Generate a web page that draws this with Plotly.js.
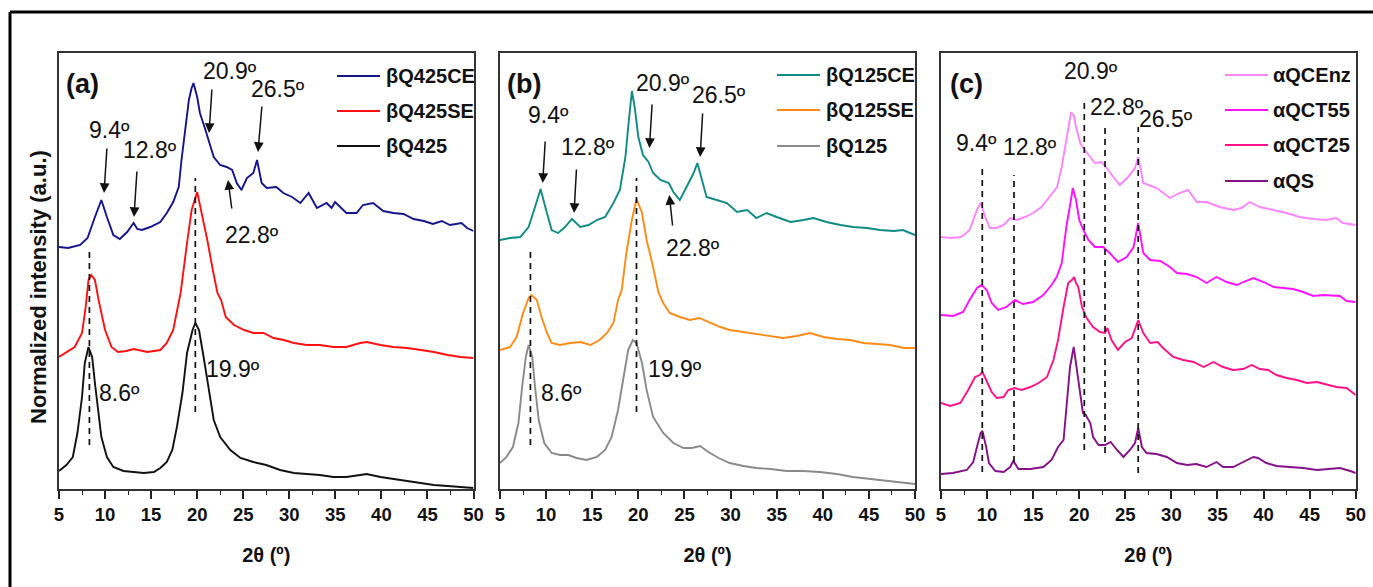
<!DOCTYPE html>
<html>
<head>
<meta charset="utf-8">
<script src="https://cdn.plot.ly/plotly-3.0.1.min.js"></script>
<style>
html,body{margin:0;padding:0;background:#fff;}
#chart{width:1373px;height:587px;}
</style>
</head>
<body>
<div id="chart"></div>
<script>
// ---------------- DATA (2θ in degrees, normalized intensity in a.u., stacked offsets) ----------------
// Panel (a)
const names_a  = ['βQ425CE', 'βQ425SE', 'βQ425'];
const colors_a = ['#14148c', '#ff1010', '#111111'];
const tt_Q425CE = [5.0,6.0,7.3,8.1,8.9,9.6,10.2,10.9,11.6,12.4,13.1,13.5,14.0,14.9,16.0,16.7,17.4,18.0,18.3,18.7,19.1,19.4,19.6,20.0,20.3,20.9,21.3,21.8,22.5,23.2,23.8,24.3,24.8,25.4,26.1,26.5,27.0,27.55,28.6,29.35,30.3,31.2,32.1,33.0,34.05,34.6,34.97,36.2,37.3,38.0,39.1,40.2,41.3,42.4,43.5,44.6,45.6,46.55,47.45,48.7,49.3,50.0];
const in_Q425CE = [242,241,244,251,272,289,272,254,250,257,266,260,259,262,267,276,287,302,329,362,389,401,406,392,376,359,346,332,324,322,319,306,299,311,316,329,306,301,302,296,292,286,296,281,286,281,287,276,276,284,286,278,276,275,270,268,265,268,264,266,261,258];
const tt_Q425SE = [5.0,5.8,6.7,7.5,7.9,8.2,8.5,8.9,9.3,10.0,10.7,11.4,12.3,13.1,14.6,16.0,16.7,17.4,17.8,18.2,18.9,19.4,20.0,20.5,21.1,21.7,22.2,22.6,23.1,24.0,25.1,26.1,27.2,28.3,29.4,30.5,31.9,33.3,34.8,36.2,37.7,38.4,39.9,41.3,42.8,44.3,45.7,47.2,48.6,50.0];
const in_Q425SE = [132,137,142,156,182,209,214,209,189,159,142,137,138,140,137,139,146,159,176,196,246,279,297,276,249,219,196,189,172,164,159,156,156,151,149,146,144,144,142,142,146,147,144,142,141,139,137,134,132,131];
const tt_Q425 = [5.0,5.8,6.5,7.0,7.5,7.8,8.2,8.6,8.9,9.3,9.6,10.2,10.9,12.0,13.1,14.2,15.3,16.0,16.7,17.3,17.8,18.4,18.9,19.5,19.8,20.2,20.7,21.3,21.8,22.5,23.6,24.7,26.1,27.5,29.0,30.5,31.9,33.3,34.8,36.2,37.7,38.4,39.9,41.3,42.8,44.3,45.7,47.2,48.6,50.0];
const in_Q425 = [18,24,32,56,92,126,142,132,106,76,52,32,22,18,17,16,17,21,27,39,62,96,136,159,166,159,132,99,69,52,39,31,27,24,19,16,15,14,12,12,14,15,12,10,8,6,4,3,2,1];

// Panel (b)
const names_b  = ['βQ125CE', 'βQ125SE', 'βQ125'];
const colors_b = ['#108a84', '#ff8a14', '#8a8a8a'];
const tt_Q125CE = [5.0,6.1,7.2,8.1,8.8,9.4,10.0,10.6,11.3,12.05,12.8,13.7,14.6,15.5,16.4,17.3,18.0,18.6,18.9,19.3,19.6,20.0,20.5,21.1,21.6,22.4,23.3,23.8,24.5,25.25,26.0,26.4,26.9,27.4,28.5,29.6,30.7,31.8,32.8,33.9,35.0,36.5,37.9,39.0,40.4,41.9,43.3,44.8,46.2,47.7,48.7,50.0];
const in_Q125CE = [249,251,252,262,282,300,279,259,256,262,270,262,264,269,272,286,299,332,362,398,382,352,334,327,316,309,306,297,289,302,316,326,309,292,289,286,277,279,271,276,272,267,269,271,267,264,262,261,259,258,259,254];
const tt_Q125SE = [5.0,6.1,6.8,7.5,8.1,8.4,9.0,9.5,10.1,10.6,11.5,12.6,13.7,14.8,15.8,16.6,17.3,17.8,18.2,18.7,19.3,19.8,20.4,20.9,21.5,22.0,22.2,22.7,23.4,24.5,25.6,26.6,27.8,28.9,29.9,31.4,32.8,34.3,35.7,37.2,38.6,40.1,41.5,43.0,44.4,45.9,47.3,48.8,50.0];
const in_Q125SE = [139,142,152,176,191,194,189,172,156,146,144,146,147,144,149,156,166,189,199,236,269,290,276,249,226,202,196,186,176,172,169,171,166,162,159,157,155,153,151,153,156,152,150,149,146,145,144,141,141];
const tt_Q125 = [5.0,5.7,6.4,7.0,7.4,7.8,8.1,8.5,8.8,9.2,9.8,10.6,11.5,12.4,13.3,14.4,15.5,16.4,17.1,17.8,18.4,18.9,19.4,19.8,20.4,20.9,21.6,22.7,23.8,24.9,25.8,26.7,27.6,28.7,29.9,31.4,32.8,34.3,36.1,37.9,39.7,41.5,43.3,45.1,46.9,48.7,50.0];
const in_Q125 = [26,32,42,66,102,132,144,132,102,69,46,36,34,34,31,29,32,39,52,79,112,139,149,146,126,99,72,56,46,41,41,43,37,31,26,23,21,20,18,18,17,15,12,10,8,6,5];

// Panel (c)
const names_c  = ['αQCEnz', 'αQCT55', 'αQCT25', 'αQS'];
const colors_c = ['#ff84ff', '#ff10ff', '#ff1088', '#84108a'];
const tt_QCEnz = [5.0,6.0,7.2,8.1,8.9,9.3,9.8,10.3,11.0,11.8,12.5,13.2,14.1,15.0,15.9,16.8,17.6,18.1,18.6,19.1,19.4,19.65,20.1,20.6,21.2,21.7,22.4,23.0,23.7,24.4,25.3,26.05,26.4,26.95,28.4,29.85,30.9,31.8,32.75,33.8,35.25,36.7,37.6,38.5,39.6,41.1,42.5,43.9,45.4,46.8,47.9,48.6,50.0];
const in_QCEnz = [252,251,252,259,279,286,272,261,261,264,271,269,272,276,282,292,302,322,349,376,374,362,346,339,332,326,327,321,312,304,312,321,332,306,301,291,296,299,287,287,282,279,281,287,282,279,276,272,270,269,271,266,264];
const tt_QCT55 = [5.0,6.3,7.4,8.1,8.9,9.4,9.96,10.5,11.2,12.1,13.0,13.9,15.0,16.1,17.0,17.55,18.1,18.6,19.1,19.3,19.65,20.0,20.45,21.0,21.7,22.6,23.3,24.2,25.15,25.9,26.4,26.95,27.7,28.8,29.85,30.6,31.7,32.75,33.8,34.9,36.0,37.1,37.8,38.9,40.0,41.1,42.15,43.2,44.3,45.4,46.5,47.6,48.3,49.0,50.0];
const in_QCT55 = [174,173,177,189,201,204,199,186,179,182,189,185,187,194,204,212,226,262,289,301,289,269,259,249,242,242,236,227,232,242,266,236,229,228,222,216,215,212,206,212,207,204,207,211,207,202,201,200,197,193,194,193,193,188,187];
const tt_QCT25 = [5.0,6.0,7.1,7.95,8.7,9.2,9.5,9.96,10.5,11.05,11.8,12.3,13.0,13.75,14.7,15.6,16.5,17.2,17.7,18.3,18.8,19.2,19.45,19.65,19.9,20.3,20.8,21.5,22.25,22.8,23.05,23.5,24.2,24.97,25.7,26.4,26.95,27.7,28.5,29.1,30.2,31.3,32.4,33.5,34.55,35.6,36.7,37.8,38.7,39.6,40.5,41.4,42.5,43.6,44.7,45.8,46.9,47.9,49.0,50.0];
const in_QCT25 = [86,83,86,99,112,114,117,107,97,91,92,99,101,99,102,106,112,129,149,182,206,209,212,206,202,182,171,162,157,156,161,149,139,147,151,169,156,146,147,141,132,129,127,122,127,122,119,120,124,120,119,114,111,109,106,107,104,102,101,94];
const tt_QS = [5.0,6.3,7.8,8.5,8.9,9.3,9.5,9.9,10.2,10.9,11.8,12.5,12.85,13.4,14.7,16.1,17.0,17.7,18.3,18.6,19.0,19.4,19.65,20.0,20.4,20.7,21.2,21.5,22.1,22.8,23.4,24.1,24.8,25.5,26.05,26.4,26.8,27.3,28.4,29.5,30.6,31.7,32.7,33.8,34.9,35.6,36.7,37.8,38.9,39.4,40.3,41.4,42.9,44.3,45.8,47.2,48.3,49.4,50.0];
const in_QS = [15,16,19,27,42,56,58,42,26,18,17,22,28,20,20,22,29,42,49,82,122,142,126,99,76,74,66,52,44,44,47,39,32,39,46,61,42,36,35,32,26,24,25,22,27,22,22,27,32,31,26,23,22,21,19,20,21,18,16];

// Peak annotations (labels, positions in 2θ / a.u.)
const peakLabels_a = ['9.4º', '12.8º', '20.9º', '26.5º', '22.8º', '8.6º', '19.9º'];
const peakLabels_c = ['9.4º', '12.8º', '20.9º', '22.8º', '26.5º'];
const refLines_ab = [8.3, 19.8];
const refLines_c = [9.48, 12.92, 20.55, 22.8, 26.4];

// ---------------- LAYOUT HELPERS ----------------
const W = 1373, H = 587;
const PX = v => v / W;
const PY = v => 1 - v / H;
const FONT = 'Liberation Sans, Arial, Helvetica, sans-serif';
const YD = [PY(489), PY(53)];

function xax(d0, d1, anchor) {
  return {
    domain: [PX(d0), PX(d1)], anchor: anchor, range: [5, 50],
    tick0: 5, dtick: 5, ticks: 'outside', ticklen: 8, tickwidth: 1.5, tickcolor: '#222',
    showline: true, linecolor: '#333', linewidth: 1.6, mirror: true,
    showgrid: false, zeroline: false, fixedrange: true,
    tickfont: {family: FONT, size: 18.5, color: '#111', weight: 'bold'},
    minor: {dtick: 2.5, tick0: 5, ticks: 'outside', ticklen: 4, tickwidth: 1.3, tickcolor: '#222', showgrid: false},
    title: {text: '2θ (º)', font: {family: FONT, size: 20, color: '#111', weight: 'bold'}, standoff: 24}
  };
}
function yax(anchor) {
  return {
    domain: YD, anchor: anchor, range: [0, 436],
    showticklabels: false, ticks: '', showline: true, linecolor: '#333', linewidth: 1.6, mirror: true,
    showgrid: false, zeroline: false, fixedrange: true
  };
}

const traces = [];
function addTrace(x, y, color, name, xa, ya) {
  traces.push({x: x, y: y, name: name, type: 'scatter', mode: 'lines', xaxis: xa, yaxis: ya,
    line: {color: color, width: 1.9}, showlegend: false, hoverinfo: 'x+y+name'});
}
addTrace(tt_Q425CE, in_Q425CE, colors_a[0], names_a[0], 'x', 'y');
addTrace(tt_Q425SE, in_Q425SE, colors_a[1], names_a[1], 'x', 'y');
addTrace(tt_Q425, in_Q425, colors_a[2], names_a[2], 'x', 'y');
addTrace(tt_Q125CE, in_Q125CE, colors_b[0], names_b[0], 'x2', 'y2');
addTrace(tt_Q125SE, in_Q125SE, colors_b[1], names_b[1], 'x2', 'y2');
addTrace(tt_Q125, in_Q125, colors_b[2], names_b[2], 'x2', 'y2');
addTrace(tt_QCEnz, in_QCEnz, colors_c[0], names_c[0], 'x3', 'y3');
addTrace(tt_QCT55, in_QCT55, colors_c[1], names_c[1], 'x3', 'y3');
addTrace(tt_QCT25, in_QCT25, colors_c[2], names_c[2], 'x3', 'y3');
addTrace(tt_QS, in_QS, colors_c[3], names_c[3], 'x3', 'y3');

const shapes = [];
const annotations = [];

// outer frame (top + left)
shapes.push({type: 'line', xref: 'paper', yref: 'paper', x0: PX(10), x1: PX(1373), y0: PY(12), y1: PY(12), line: {color: '#000', width: 3}});
shapes.push({type: 'line', xref: 'paper', yref: 'paper', x0: PX(10), x1: PX(10), y0: PY(12), y1: PY(587), line: {color: '#000', width: 3}});

// dashed reference lines
function dash(xa, ya, x, v0, v1) {
  shapes.push({type: 'line', xref: xa, yref: ya, x0: x, x1: x, y0: v0, y1: v1, line: {color: '#111', width: 1.7, dash: '6px,5px'}});
}
dash('x', 'y', refLines_ab[0], 44, 239);
dash('x', 'y', refLines_ab[1], 77, 311);
dash('x2', 'y2', refLines_ab[0], 44, 239);
dash('x2', 'y2', refLines_ab[1], 77, 311);
dash('x3', 'y3', refLines_c[0], 17, 322);
dash('x3', 'y3', refLines_c[1], 27, 314);
dash('x3', 'y3', refLines_c[2], 39, 386);
dash('x3', 'y3', refLines_c[3], 36, 363);
dash('x3', 'y3', refLines_c[4], 16, 362);

// text labels
const LBL = {family: 'Liberation Sans Narrow, Arial Narrow, Liberation Sans, Arial, sans-serif', size: 23, color: '#111'};
function label(xa, ya, x, y, t) {
  annotations.push({xref: xa, yref: ya, x: x, y: y, text: t, showarrow: false, xanchor: 'center', yanchor: 'middle', font: LBL});
}
function arrow(xa, ya, xh, yh, xt, yt) {
  annotations.push({xref: xa, yref: ya, axref: xa, ayref: ya, x: xh, y: yh, ax: xt, ay: yt, text: '',
    showarrow: true, arrowhead: 2, arrowsize: 1.3, arrowwidth: 1.5, arrowcolor: '#111', standoff: 0, startstandoff: 0});
}
// panel a
label('x', 'y', 10.43, 359, peakLabels_a[0]); arrow('x', 'y', 9.89, 296, 10.21, 342);
label('x', 'y', 14.88, 339, peakLabels_a[1]); arrow('x', 'y', 13.14, 272, 13.47, 319);
label('x', 'y', 23.57, 418, peakLabels_a[2]); arrow('x', 'y', 21.29, 356, 21.61, 401);
label('x', 'y', 28.78, 400, peakLabels_a[3]); arrow('x', 'y', 26.6, 337, 27.04, 384);
label('x', 'y', 25.96, 254, peakLabels_a[4]); arrow('x', 'y', 23.35, 309, 23.78, 279);
label('x', 'y', 11.62, 96, peakLabels_a[5]);
label('x', 'y', 23.9, 120, peakLabels_a[6]);
// panel b
label('x2', 'y2', 10.24, 374, peakLabels_a[0]); arrow('x2', 'y2', 9.63, 306, 9.91, 349);
label('x2', 'y2', 14.58, 342, peakLabels_a[1]); arrow('x2', 'y2', 13.03, 276, 13.3, 321);
label('x2', 'y2', 22.7, 406, peakLabels_a[2]); arrow('x2', 'y2', 21.2, 341, 21.5, 386);
label('x2', 'y2', 28.8, 394, peakLabels_a[3]); arrow('x2', 'y2', 26.7, 332, 26.98, 377);
label('x2', 'y2', 25.97, 241, peakLabels_a[4]); arrow('x2', 'y2', 23.36, 294, 23.73, 262);
label('x2', 'y2', 11.69, 96, peakLabels_a[5]);
label('x2', 'y2', 24.0, 120, peakLabels_a[6]);
// panel c
label('x3', 'y3', 8.87, 346, peakLabels_c[0]);
label('x3', 'y3', 14.66, 342, peakLabels_c[1]);
label('x3', 'y3', 21.25, 418, peakLabels_c[2]);
label('x3', 'y3', 24.13, 382, peakLabels_c[3]);
label('x3', 'y3', 29.4, 370, peakLabels_c[4]);

// manual legends
const LEG = {family: FONT, size: 20, color: '#111', weight: 'bold'};
function legend(names, colors, lx0, lx1, tx, rows) {
  names.forEach((n, i) => {
    shapes.push({type: 'line', xref: 'paper', yref: 'paper', x0: PX(lx0), x1: PX(lx1), y0: PY(rows[i]), y1: PY(rows[i]), line: {color: colors[i], width: 2.2}});
    annotations.push({xref: 'paper', yref: 'paper', x: PX(tx), y: PY(rows[i]), text: n, showarrow: false, xanchor: 'left', yanchor: 'middle', font: LEG});
  });
}
legend(names_a, colors_a, 337, 380, 384, [76, 111, 146]);
legend(names_b, colors_b, 777, 820, 824, [75, 110, 146]);
legend(names_c, colors_c, 1225, 1268, 1271, [75, 110, 145, 181]);

// panel labels
const PL = {family: FONT, size: 27, color: '#111', weight: 'bold'};
[['(a)', 64], ['(b)', 505], ['(c)', 948]].forEach(p => {
  annotations.push({xref: 'paper', yref: 'paper', x: PX(p[1]), y: PY(84), text: p[0], showarrow: false, xanchor: 'left', yanchor: 'middle', font: PL});
});

// y-axis title
annotations.push({xref: 'paper', yref: 'paper', x: PX(38), y: PY(287), text: 'Normalized intensity (a.u.)', textangle: -90,
  showarrow: false, xanchor: 'center', yanchor: 'middle', font: {family: FONT, size: 22, color: '#111', weight: 'bold'}});

const layout = {
  width: W, height: H, margin: {l: 0, r: 0, t: 0, b: 0},
  paper_bgcolor: '#fff', plot_bgcolor: '#fff', showlegend: false,
  xaxis: xax(59, 473.5, 'y'), yaxis: yax('x'),
  xaxis2: xax(500, 915, 'y2'), yaxis2: yax('x2'),
  xaxis3: xax(941, 1355.7, 'y3'), yaxis3: yax('x3'),
  shapes: shapes, annotations: annotations
};

Plotly.newPlot('chart', traces, layout, {displayModeBar: false});
</script>
</body>
</html>
